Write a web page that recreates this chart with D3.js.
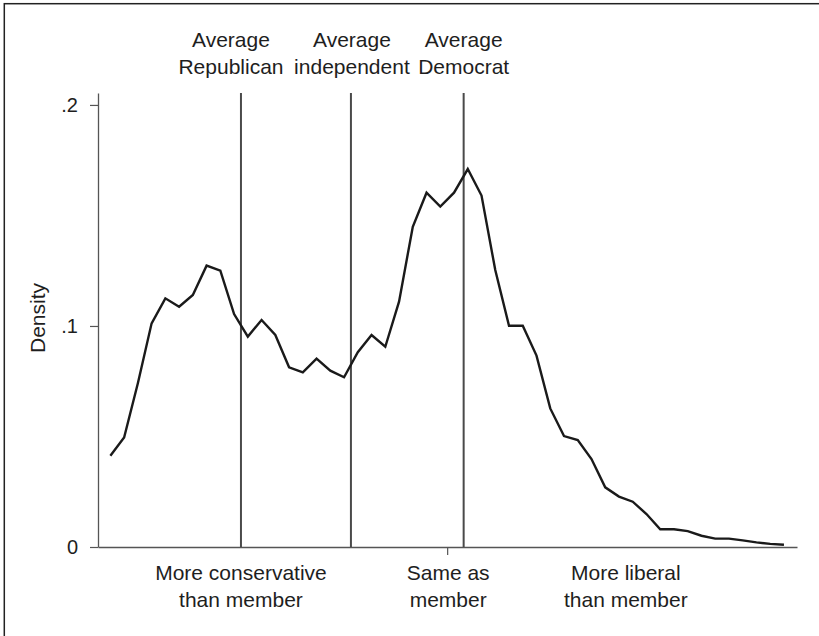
<!DOCTYPE html>
<html>
<head>
<meta charset="utf-8">
<script src="https://cdn.jsdelivr.net/npm/d3@7"></script>
<style>
  body { margin: 0; background: #fff; }
  svg { display: block; font-family: "Liberation Sans", Arial, sans-serif; }
</style>
</head>
<body>
<svg id="chart" width="819" height="636"></svg>
<script>
// Positions relative to member (0 = same as member).
const positions = [
  -24.5, -23.5, -22.5, -21.5, -20.5, -19.5, -18.5, -17.5, -16.5, -15.5,
  -14.5, -13.5, -12.5, -11.5, -10.5, -9.5, -8.5, -7.5, -6.5, -5.5,
  -4.5, -3.5, -2.5, -1.5, -0.5, 0.5, 1.5, 2.5, 3.5, 4.5,
  5.5, 6.5, 7.5, 8.5, 9.5, 10.5, 11.5, 12.5, 13.5, 14.5,
  15.5, 16.5, 17.5, 18.5, 19.5, 20.5, 21.5, 22.5, 23.5, 24.5,
];

const density = [
  0.0413, 0.0495, 0.0741, 0.1012, 0.1125, 0.1087, 0.1140, 0.1273, 0.1250, 0.1054,
  0.0952, 0.1027, 0.0959, 0.0813, 0.0790, 0.0852, 0.0798, 0.0768, 0.0881, 0.0959,
  0.0906, 0.1110, 0.1449, 0.1603, 0.1540, 0.1603, 0.1710, 0.1590, 0.1253, 0.1001,
  0.1001, 0.0866, 0.0627, 0.0502, 0.0484, 0.0398, 0.0270, 0.0228, 0.0205, 0.0149,
  0.0080, 0.0080, 0.0072, 0.0051, 0.0038, 0.0038, 0.0030, 0.0021, 0.0014, 0.0010,
];

// Party averages drawn as reference lines.
const partyNames = ['Republican', 'independent', 'Democrat'];
const partyMeans = [-15, -7, 1.2];

// Category labels under the x axis.
const xLabelLines = [
  ['More conservative', 'than member'],
  ['Same as', 'member'],
  ['More liberal', 'than member'],
];
const xLabelAt = [-15, 0, 13];

const yTicks = [0, 0.1, 0.2];
const yTickLabels = ['0', '.1', '.2'];

const svg = d3.select('#chart');

// Outer frame (right and bottom edges fall outside the picture).
svg.append('rect')
  .attr('x', 4.3).attr('y', 3.7)
  .attr('width', 1000).attr('height', 1000)
  .attr('fill', 'none')
  .attr('stroke', '#222')
  .attr('stroke-width', 1.5);

const x = d3.scaleLinear().domain([-25.4, 25.45]).range([98, 797]);
const y = d3.scaleLinear().domain([0, 0.2054]).range([547, 93]);

const axisColor = '#555';
const labelSize = '21px';

// Y axis
const yAxis = svg.append('g')
  .attr('transform', `translate(${x.range()[0]},0)`)
  .call(d3.axisLeft(y)
    .tickValues(yTicks)
    .tickFormat((d, i) => yTickLabels[i])
    .tickSize(8)
    .tickSizeOuter(0)
    .tickPadding(12));

yAxis.select('.domain').attr('stroke', axisColor).attr('stroke-width', 1.3);
yAxis.selectAll('.tick line').attr('stroke', axisColor).attr('stroke-width', 1.2);
yAxis.selectAll('.tick text')
  .attr('fill', '#1e1e1e')
  .style('font-size', '20px')
  .style('font-family', '"Liberation Sans", Arial, sans-serif');

// X axis, only the "same as member" tick is marked
const xAxis = svg.append('g')
  .attr('transform', `translate(0,${y(0)})`)
  .call(d3.axisBottom(x)
    .tickValues([0])
    .tickFormat('')
    .tickSize(8)
    .tickSizeOuter(0));

xAxis.select('.domain').attr('stroke', axisColor).attr('stroke-width', 1.3);
xAxis.selectAll('.tick line').attr('stroke', axisColor).attr('stroke-width', 1.2);

// Y axis title
svg.append('text')
  .attr('transform', `translate(45,${(y.range()[0] + y.range()[1]) / 2 - 2}) rotate(-90)`)
  .attr('text-anchor', 'middle')
  .attr('fill', '#1e1e1e')
  .style('font-size', labelSize)
  .text('Density');

// Reference lines for the party averages
svg.append('g')
  .selectAll('line')
  .data(partyMeans)
  .join('line')
  .attr('x1', (d) => x(d))
  .attr('x2', (d) => x(d))
  .attr('y1', y(0))
  .attr('y2', y.range()[1])
  .attr('stroke', '#4a4a4a')
  .attr('stroke-width', 2);

// Labels above the reference lines; Republican nudged left to clear its neighbour
const labelShift = [-10, 1, 0];
const topLabels = svg.append('g')
  .selectAll('text')
  .data(partyNames)
  .join('text')
  .attr('text-anchor', 'middle')
  .attr('fill', '#1e1e1e')
  .style('font-size', labelSize);

topLabels.append('tspan')
  .attr('x', (d, i) => x(partyMeans[i]) + labelShift[i])
  .attr('y', 46.7)
  .text('Average');

topLabels.append('tspan')
  .attr('x', (d, i) => x(partyMeans[i]) + labelShift[i])
  .attr('y', 74)
  .text((d) => d);

// Category labels under the x axis
const bottomLabels = svg.append('g')
  .selectAll('text')
  .data(xLabelLines)
  .join('text')
  .attr('text-anchor', 'middle')
  .attr('fill', '#1e1e1e')
  .style('font-size', labelSize);

bottomLabels.each(function (lines, i) {
  const t = d3.select(this);
  lines.forEach((line, j) => {
    t.append('tspan')
      .attr('x', x(xLabelAt[i]) + (i === 1 ? 1 : 0))
      .attr('y', 580 + j * 26.7)
      .text(line);
  });
});

// Density curve
const line = d3.line()
  .x((d, i) => x(positions[i]))
  .y((d) => y(d));

svg.append('path')
  .datum(density)
  .attr('fill', 'none')
  .attr('stroke', '#1a1a1a')
  .attr('stroke-width', 2.4)
  .attr('stroke-linejoin', 'miter')
  .attr('d', line);
</script>
</body>
</html>
